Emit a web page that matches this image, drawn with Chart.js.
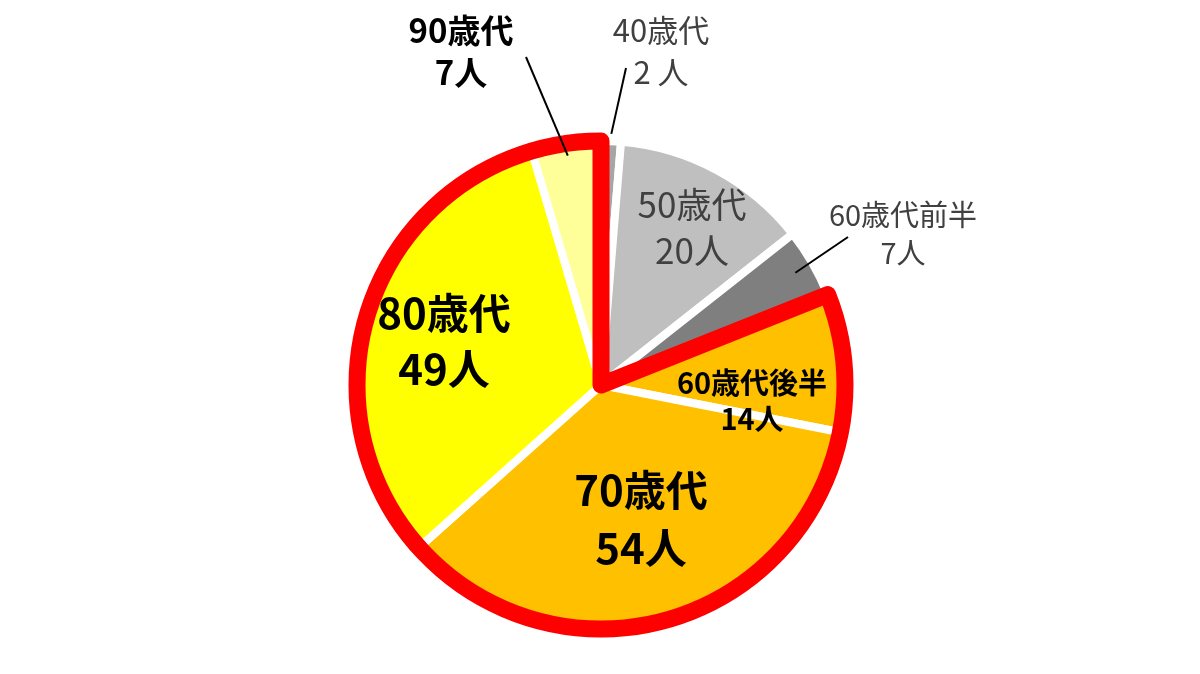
<!DOCTYPE html>
<html>
<head>
<meta charset="utf-8">
<script src="https://cdn.jsdelivr.net/npm/chart.js@4.4.1/dist/chart.umd.min.js"></script>
<style>
  html, body { margin: 0; padding: 0; background: #fff; }
  #wrap { width: 1200px; height: 674px; }
</style>
</head>
<body>
<div id="wrap"><canvas id="myChart" width="1200" height="674"></canvas></div>
<script>
// data (clockwise from 12 o'clock)
var categories = ["40歳代", "50歳代", "60歳代前半", "60歳代後半", "70歳代", "80歳代", "90歳代"];
var counts = [2, 20, 7, 14, 54, 49, 7];
var sliceColors = ["#a6a6a6", "#bfbfbf", "#7f7f7f", "#ffc000", "#ffc000", "#ffff00", "#ffff99"];
// slices wrapped by the red outline (60歳代後半 .. 90歳代)
var highlightFrom = 3, highlightTo = 6;

// label layout: offsets from the pie centre, leader = radius fraction on the slice mid angle
var labelStyle = [
    { weight: "normal", size: 31, color: "#404040", dx: 60, dy: -355, gap: 42, leader: { r: 1.03, dx: 25, dy: -317 } },
    { weight: "normal", size: 35, color: "#404040", dx: 91, dy: -180, gap: 46 },
    { weight: "normal", size: 29, color: "#404040", dx: 302, dy: -170, gap: 38, leader: { r: 0.92, dx: 247, dy: -148 } },
    { weight: "bold", size: 29, color: "#000", dx: 151, dy: -2, gap: 36 },
    { weight: "bold", size: 42, color: "#000", dx: 40, dy: 105, gap: 58 },
    { weight: "bold", size: 42, color: "#000", dx: -157, dy: -72, gap: 56 },
    { weight: "bold", size: 33, color: "#000", dx: -140, dy: -355, gap: 42, leader: { r: 0.95, dx: -75, dy: -328 } }
];
var unitText = ["2 人", "20人", "7人", "14人", "54人", "49人", "7人"];

var redOutline = {
    id: 'redOutline',
    afterDatasetsDraw: function (chart) {
        var arcs = chart.getDatasetMeta(0).data;
        var a0 = arcs[highlightFrom], a1 = arcs[highlightTo];
        var cx = a0.x, cy = a0.y;
        var r = a0.outerRadius;
        var ctx = chart.ctx;
        ctx.save();
        ctx.beginPath();
        ctx.moveTo(cx, cy);
        ctx.lineTo(cx + r * Math.cos(a0.startAngle), cy + r * Math.sin(a0.startAngle));
        ctx.arc(cx, cy, r, a0.startAngle, a1.endAngle);
        ctx.closePath();
        ctx.lineWidth = 17;
        ctx.lineJoin = 'round';
        ctx.strokeStyle = '#ff0000';
        ctx.stroke();
        ctx.restore();
    }
};

var sliceLabels = {
    id: 'sliceLabels',
    afterDraw: function (chart) {
        var arcs = chart.getDatasetMeta(0).data;
        var ctx = chart.ctx;
        ctx.save();
        arcs.forEach(function (arc, i) {
            var st = labelStyle[i];
            var cx = arc.x, cy = arc.y;
            if (st.leader) {
                var mid = (arc.startAngle + arc.endAngle) / 2;
                var rr = arc.outerRadius * st.leader.r;
                ctx.beginPath();
                ctx.moveTo(cx + rr * Math.cos(mid), cy + rr * Math.sin(mid));
                ctx.lineTo(cx + st.leader.dx, cy + st.leader.dy);
                ctx.lineWidth = 2;
                ctx.strokeStyle = '#000';
                ctx.stroke();
            }
            ctx.font = st.weight + ' ' + st.size + 'px "Noto Sans CJK JP", sans-serif';
            ctx.fillStyle = st.color;
            ctx.textAlign = 'center';
            ctx.textBaseline = 'middle';
            ctx.fillText(categories[i], cx + st.dx, cy + st.dy);
            ctx.fillText(unitText[i], cx + st.dx, cy + st.dy + st.gap);
        });
        ctx.restore();
    }
};

var ctx = document.getElementById("myChart");
var myChart = new Chart(ctx, {
    type: 'pie',
    data: {
        labels: categories,
        datasets: [
            {
                data: counts,
                backgroundColor: sliceColors,
                borderColor: "#ffffff",
                borderWidth: 8,
                radius: 244
            }
        ]
    },
    options: {
        responsive: false,
        animation: false,
        layout: { padding: { top: 96, bottom: 0, left: 2, right: 0 } },
        plugins: {
            legend: { display: false },
            tooltip: { enabled: false }
        }
    },
    plugins: [redOutline, sliceLabels]
});
</script>
</body>
</html>
